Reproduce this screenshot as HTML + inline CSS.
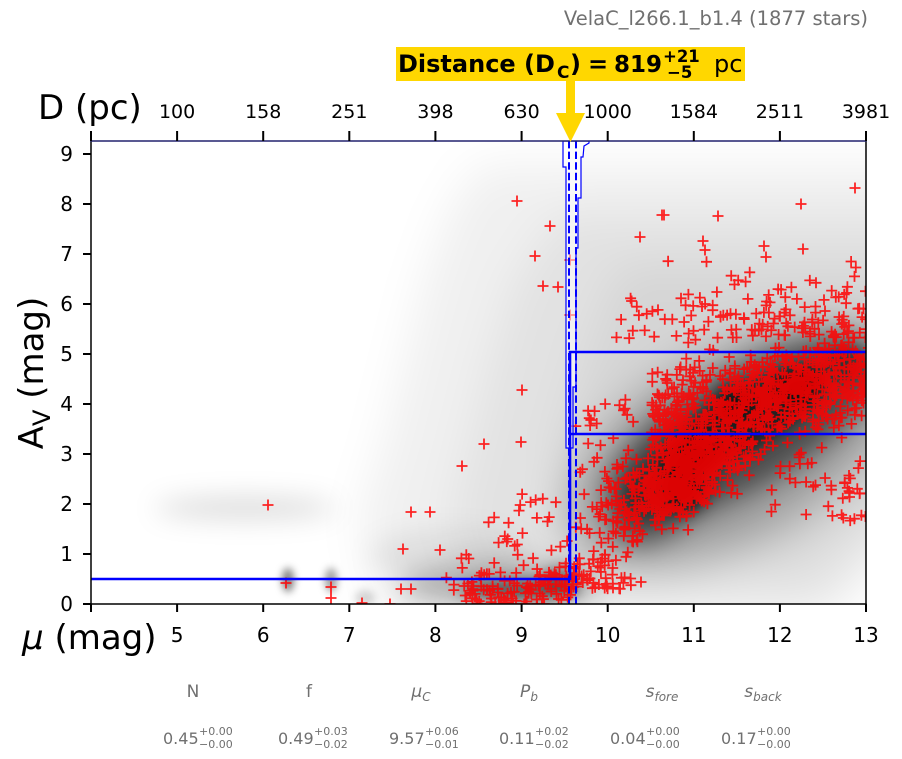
<!DOCTYPE html>
<html><head><meta charset="utf-8">
<style>
html,body{margin:0;padding:0;background:#fff;}
svg{display:block;font-family:"DejaVu Sans","Liberation Sans",sans-serif;}
</style></head><body>
<svg id="s" width="902" height="759" viewBox="0 0 902 759" xmlns="http://www.w3.org/2000/svg">
<defs>
<clipPath id="pc"><rect x="91" y="141" width="775" height="463"/></clipPath>
<filter id="b1" filterUnits="userSpaceOnUse" x="0" y="0" width="902" height="759"><feGaussianBlur stdDeviation="22"/></filter>
<filter id="b2" filterUnits="userSpaceOnUse" x="0" y="0" width="902" height="759"><feGaussianBlur stdDeviation="13"/></filter>
<filter id="b3" filterUnits="userSpaceOnUse" x="0" y="0" width="902" height="759"><feGaussianBlur stdDeviation="7"/></filter>
<filter id="b4" filterUnits="userSpaceOnUse" x="0" y="0" width="902" height="759"><feGaussianBlur stdDeviation="4"/></filter>
</defs>
<rect width="902" height="759" fill="#fff"/>

<g clip-path="url(#pc)">
  <g filter="url(#b1)" fill="#000">
    <polygon points="480,165 910,165 910,530 830,620 380,620 360,520 385,440 405,360 425,280 450,210" fill-opacity="0.06"/>
    <polygon points="560,215 910,215 910,510 820,600 480,600 450,520 470,440 490,360 515,280" fill-opacity="0.06"/>
    <polygon points="620,265 910,265 910,480 800,560 580,560 560,440 590,340" fill-opacity="0.06"/>
    <ellipse cx="735" cy="445" rx="185" ry="92" transform="rotate(-30 735 445)" fill-opacity="0.28"/>
  </g>
  <g filter="url(#b2)" fill="#000">
    <ellipse cx="745" cy="428" rx="155" ry="58" transform="rotate(-30 745 428)" fill-opacity="0.5"/>
    <ellipse cx="662" cy="495" rx="62" ry="36" transform="rotate(-45 662 495)" fill-opacity="0.45"/>
    <ellipse cx="500" cy="586" rx="100" ry="22" fill-opacity="0.25"/>
    <ellipse cx="450" cy="555" rx="80" ry="25" fill-opacity="0.07"/>
    <ellipse cx="245" cy="508" rx="90" ry="11" fill-opacity="0.14"/>
  </g>
  <g filter="url(#b3)" fill="#000">
    <ellipse cx="745" cy="420" rx="95" ry="30" transform="rotate(-30 745 420)" fill-opacity="0.55"/>
    <circle cx="684" cy="491" r="22" fill-opacity="0.5"/>
    <circle cx="734" cy="401" r="20" fill-opacity="0.45"/>
    <circle cx="798" cy="388" r="22" fill-opacity="0.45"/>
    <circle cx="845" cy="365" r="18" fill-opacity="0.35"/>
    <circle cx="700" cy="455" r="18" fill-opacity="0.35"/>
    <ellipse cx="520" cy="590" rx="60" ry="10" fill-opacity="0.5"/>
    <ellipse cx="560" cy="580" rx="18" ry="14" fill-opacity="0.35"/>
  </g>
  <g filter="url(#b4)" fill="#000">
    <ellipse cx="288" cy="580" rx="6" ry="12" fill-opacity="0.5"/>
    <ellipse cx="331" cy="580" rx="6" ry="12" fill-opacity="0.38"/>
    <ellipse cx="365" cy="598" rx="10" ry="8" fill-opacity="0.15"/>
  </g>

  <path id="pts" d="" fill="none" stroke="#ff0000" stroke-opacity="0.85" stroke-width="1.8"/>

  <!-- blue model lines -->
  <polygon points="563,141 563,167 566,167 566,448 573,448 573,387 576,387 576,248 578,248 578,198 581,198 581,157 583,157 584,146 589,143 589,141" fill="#fff" fill-opacity="0.5" stroke="#0000ff" stroke-width="1.2"/>
  <polyline points="91,579 570,579 570,352 866,352" fill="none" stroke="#0000ff" stroke-width="2.6"/>
  <line x1="570" y1="434" x2="866" y2="434" stroke="#0000ff" stroke-width="2.6"/>
  <line x1="569" y1="141" x2="569" y2="604" stroke="#0000ff" stroke-width="2" stroke-dasharray="7.4,3.2"/>
  <line x1="576" y1="141" x2="576" y2="604" stroke="#0000ff" stroke-width="2" stroke-dasharray="7.4,3.2"/>
</g>

<!-- spines -->
<line x1="91" y1="141" x2="91" y2="604.5" stroke="#000" stroke-width="1.5"/>
<line x1="866" y1="141" x2="866" y2="604.5" stroke="#000" stroke-width="1.5"/>
<line x1="90.3" y1="604" x2="866.7" y2="604" stroke="#000" stroke-width="1.5"/>
<line x1="90.3" y1="141" x2="866.7" y2="141" stroke="#22226e" stroke-width="1.5"/>

<!-- ticks -->
<g stroke="#000" stroke-width="2">
  <path d="M91 604v8M177.1 604v8M263.2 604v8M349.3 604v8M435.4 604v8M521.6 604v8M607.7 604v8M693.8 604v8M779.9 604v8M866 604v8"/>
  <path d="M91 141v-10M177.1 141v-10M263.2 141v-10M349.3 141v-10M435.4 141v-10M521.6 141v-10M607.7 141v-10M693.8 141v-10M779.9 141v-10M866 141v-10"/>
  <path d="M83 604h8M83 554h8M83 504h8M83 454h8M83 404h8M83 354h8M83 304h8M83 254h8M83 204h8M83 154h8"/>
</g>

<!-- bottom tick labels -->
<g font-size="20" text-anchor="middle" fill="#000">
  <text x="177.1" y="642">5</text><text x="263.2" y="642">6</text><text x="349.3" y="642">7</text>
  <text x="435.4" y="642">8</text><text x="521.6" y="642">9</text><text x="607.7" y="642">10</text>
  <text x="693.8" y="642">11</text><text x="779.9" y="642">12</text><text x="866" y="642">13</text>
</g>
<!-- left tick labels -->
<g font-size="20" text-anchor="end" fill="#000">
  <text x="73" y="611">0</text><text x="73" y="561">1</text><text x="73" y="511">2</text>
  <text x="73" y="461">3</text><text x="73" y="411">4</text><text x="73" y="361">5</text>
  <text x="73" y="311">6</text><text x="73" y="261">7</text><text x="73" y="211">8</text>
  <text x="73" y="161">9</text>
</g>
<!-- top tick labels -->
<g font-size="19" text-anchor="middle" fill="#000">
  <text x="177.1" y="118">100</text><text x="263.2" y="118">158</text><text x="349.3" y="118">251</text>
  <text x="435.4" y="118">398</text><text x="521.6" y="118">630</text><text x="607.7" y="118">1000</text>
  <text x="693.8" y="118">1584</text><text x="779.9" y="118">2511</text><text x="866" y="118">3981</text>
</g>

<!-- axis labels -->
<text x="38" y="119" font-size="34" fill="#000">D (pc)</text>
<text x="22" y="649" font-size="34" fill="#000"><tspan font-style="italic">μ</tspan> (mag)</text>
<g transform="translate(43,373) rotate(-90)">
  <text x="0" y="0" font-size="34" text-anchor="middle" fill="#000">A<tspan font-size="24" dy="7">V</tspan><tspan dy="-7"> (mag)</tspan></text>
</g>

<!-- title -->
<text x="868" y="25" font-size="19.5" text-anchor="end" fill="#707070">VelaC_l266.1_b1.4 (1877 stars)</text>

<!-- distance box -->
<rect x="396" y="47" width="349" height="34" fill="#ffd700"/>
<g fill="#000" font-weight="bold">
  <text x="398" y="72" font-size="24">Distance (D</text>
  <text x="557" y="78" font-size="17">C</text>
  <text x="570" y="72" font-size="24">)</text>
  <text x="588" y="72" font-size="24">=</text>
  <text x="614" y="72" font-size="23">819</text>
  <text x="663" y="62" font-size="16.5">+21</text>
  <text x="667" y="78" font-size="16.5">−5</text>
</g>
<text x="714" y="72" font-size="24" fill="#000">pc</text>
<rect x="566" y="80" width="9" height="34" fill="#ffd700"/>
<polygon points="556,113 585,113 570.5,142" fill="#ffd700"/>

<!-- parameter labels -->
<g fill="#707070" font-size="17" text-anchor="middle">
  <text x="193" y="697">N</text>
  <text x="309" y="697">f</text>
  <text x="421" y="697"><tspan font-style="italic">μ</tspan><tspan font-style="italic" font-size="12" dy="4">C</tspan></text>
  <text x="529" y="697"><tspan font-style="italic">P</tspan><tspan font-style="italic" font-size="12" dy="4">b</tspan></text>
  <text x="662" y="697"><tspan font-style="italic">s</tspan><tspan font-style="italic" font-size="12" dy="4">fore</tspan></text>
  <text x="763" y="697"><tspan font-style="italic">s</tspan><tspan font-style="italic" font-size="12" dy="4">back</tspan></text>
</g>
<g fill="#707070">
  <text x="163" y="744" font-size="16">0.45</text><text x="199" y="735" font-size="11">+0.00</text><text x="199" y="748" font-size="11">−0.00</text>
  <text x="278" y="744" font-size="16">0.49</text><text x="314" y="735" font-size="11">+0.03</text><text x="314" y="748" font-size="11">−0.02</text>
  <text x="389" y="744" font-size="16">9.57</text><text x="425" y="735" font-size="11">+0.06</text><text x="425" y="748" font-size="11">−0.01</text>
  <text x="499" y="744" font-size="16">0.11</text><text x="535" y="735" font-size="11">+0.02</text><text x="535" y="748" font-size="11">−0.02</text>
  <text x="610" y="744" font-size="16">0.04</text><text x="646" y="735" font-size="11">+0.00</text><text x="646" y="748" font-size="11">−0.00</text>
  <text x="721" y="744" font-size="16">0.17</text><text x="757" y="735" font-size="11">+0.00</text><text x="757" y="748" font-size="11">−0.00</text>
</g>
</svg>
<script>
(function(){
  var seed=987654321;
  function R(){seed|=0;seed=seed+0x6D2B79F5|0;var t=Math.imul(seed^seed>>>15,1|seed);t=t+Math.imul(t^t>>>7,61|t)^t;return((t^t>>>14)>>>0)/4294967296;}
  function N(){var u=R()||1e-9,v=R();return Math.sqrt(-2*Math.log(u))*Math.cos(2*Math.PI*v);}
  var P=[];
  function add(m,a){P.push([91+(m-4)*86.11,604-50*a]);}
  var i,m,a;
  for(i=0;i<500;i++){m=10.9+0.38*N();a=2.55+0.9*(m-10.9)+0.4*N();add(m,a);}
  for(i=0;i<820;i++){m=10.5+2.7*R();a=3.6+0.4*(m-10.5)+0.5*N();add(m,a);}
  for(i=0;i<130;i++){m=10+3*Math.pow(R(),0.7);a=5.3+Math.abs(N())*0.7;add(m,a);}
  for(i=0;i<90;i++){m=9.6+0.7*R();a=0.3+3.8*Math.pow(R(),1.5);add(m,a);}
  for(i=0;i<120;i++){m=8.1+1.55*Math.pow(R(),0.6);a=Math.max(0,0.22+0.1*(m-8)+0.2*N());add(m,a);}
  for(i=0;i<20;i++){m=9.6+0.4*R();a=0.3+0.6*R();add(m,a);}
  for(i=0;i<35;i++){m=8.2+1.35*Math.pow(R(),0.6);a=0.6+2.4*R()*((m-7.9)/1.6);add(m,a);}
  for(i=0;i<45;i++){m=11.8+1.2*R();a=1.6+1.6*R();add(m,a);}
  var px=[[517,201],[550,226],[535,256],[543,286],[558,287],[570,260],[268,505],[286,583],[331,587],[331,598],[362,603],[390,604],[401,589],[411,589],[403,549],[411,512],[430,512],[440,550],[462,466],[484,444],[521,442],[522,390],[570,315],[640,237],[662,215],[664,215],[718,216],[855,188],[801,204],[703,241],[705,250],[764,246],[766,257],[803,249],[641,582]];
  for(i=0;i<px.length;i++)P.push(px[i]);
  var d=[];
  for(i=0;i<P.length;i++){var x=P[i][0],y=P[i][1];
    if(x<80||x>880||y<130||y>615)continue;
    d.push("M"+(x-5.5).toFixed(1)+" "+y.toFixed(1)+"h11M"+x.toFixed(1)+" "+(y-5.5).toFixed(1)+"v11");}
  document.getElementById("pts").setAttribute("d",d.join(""));
})();
</script>
</body></html>
